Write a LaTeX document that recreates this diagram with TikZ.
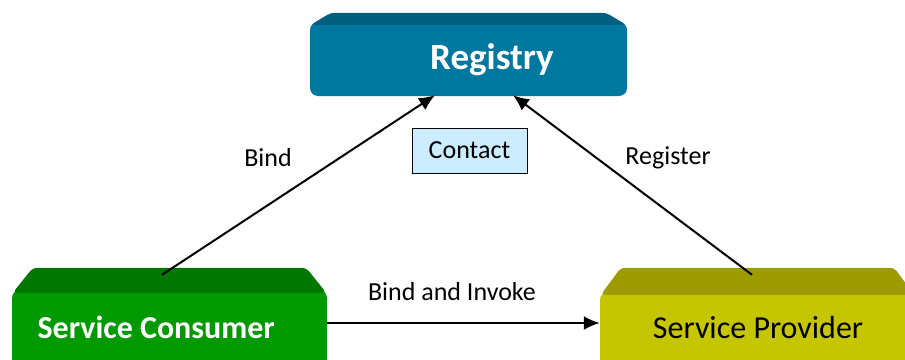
\documentclass[tikz,border=0pt]{standalone}
\usepackage{fontspec}
\setmainfont{Carlito}
\usetikzlibrary{arrows.meta}

\definecolor{regfront}{RGB}{0,119,158}
\definecolor{regtop}{RGB}{0,94,126}
\definecolor{confront}{RGB}{0,153,0}
\definecolor{contop}{RGB}{0,120,0}
\definecolor{profront}{RGB}{198,198,0}
\definecolor{protop}{RGB}{156,156,0}
\definecolor{contactfill}{RGB}{204,236,255}

\tikzset{
  front/.style={rounded corners=8pt, inner sep=0pt},
  link/.style={line width=2pt, -{Latex[length=16pt,width=14pt]}},
  linklabel/.style={font=\fontsize{26}{30}\selectfont},
}

\begin{document}
\begin{tikzpicture}[x=1pt,y=-1pt]
  \useasboundingbox (0,0) rectangle (905,359);
  \clip (0,0) rectangle (905,359);
  % front faces
  \node[front, fill=regfront, minimum width=317pt, minimum height=74pt] (registry) at (468.5,59) {};
  \node[front, fill=confront, minimum width=315pt, minimum height=90pt] (consumer) at (169.5,335) {};
  \node[front, fill=profront, minimum width=315pt, minimum height=90pt] (provider) at (757.5,337) {};
  % top faces
  \foreach \n/\c/\h in {registry/regtop/9, consumer/contop/22, provider/protop/24}
    \fill[\c, rounded corners=4pt] ([xshift=1pt, yshift=-3pt]\n.north west) -- ++(20,-\h-3)
      -- ([xshift=-21pt, yshift=\h pt]\n.north east) -- ([xshift=-1pt, yshift=-3pt]\n.north east) -- cycle;
  %
  \node[font=\fontsize{37}{40}\bfseries, text=white] at (492,60) {Registry};
  \node[font=\fontsize{32}{36}\bfseries, text=white, anchor=west] at (34,327) {Service Consumer};
  \node[font=\fontsize{32}{36}\selectfont] at (758,327) {Service Provider};
  \node[draw, line width=1pt, fill=contactfill, minimum width=115pt, minimum height=45pt,
        font=\fontsize{26}{30}\selectfont] (contact) at (469.5,150.5) {Contact};
  % links
  \draw[link] ([xshift=-7.5pt, yshift=15pt]consumer.north) -- ([xshift=-33.5pt, yshift=1pt]registry.south);
  \draw[link] ([xshift=-5.5pt, yshift=17pt]provider.north) -- ([xshift=44.5pt, yshift=1pt]registry.south);
  \draw[link] ([yshift=12pt]consumer.east) -- ([yshift=14pt]provider.west);
  \draw (268,158) node[linklabel] {Bind};
  \draw (668,158) node[linklabel] {Register};
  \draw (452,292) node[linklabel] {Bind and Invoke};
\end{tikzpicture}
\end{document}
